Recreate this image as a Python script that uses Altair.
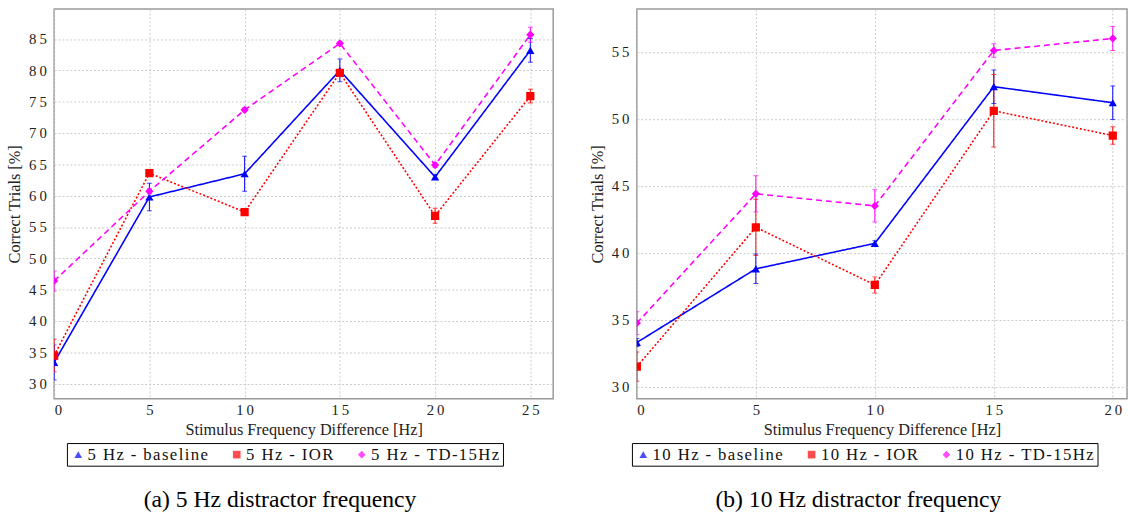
import altair as alt
import pandas as pd

# ---------------- data ----------------
x_left = [0, 5, 10, 15, 20, 25]
left_baseline = [33.4, 59.8, 63.5, 80.0, 63.0, 83.2]
left_baseline_err = [2.8, 2.2, 2.8, 1.8, 0.3, 1.9]
left_ior = [34.5, 63.6, 57.4, 79.6, 56.8, 75.9]
left_ior_err = [2.6, 0.4, 0.3, 0.5, 1.2, 1.1]
left_td = [46.4, 60.7, 73.7, 84.3, 64.9, 85.7]
left_td_err = [1.6, 0.4, 0.3, 0.3, 0.4, 1.2]

x_right = [0, 5, 10, 15, 20]
right_baseline = [33.3, 38.8, 40.7, 52.4, 51.2]
right_baseline_err = [0.3, 1.1, 0.2, 1.25, 1.25]
right_ior = [31.5, 41.9, 37.6, 50.6, 48.75]
right_ior_err = [1.1, 2.1, 0.6, 2.7, 0.65]
right_td = [34.75, 44.4, 43.5, 55.1, 56.0]
right_td_err = [0.85, 1.35, 1.2, 0.5, 0.9]

left_series = ["5 Hz - baseline", "5 Hz - IOR", "5 Hz - TD-15Hz"]
right_series = ["10 Hz - baseline", "10 Hz - IOR", "10 Hz - TD-15Hz"]
colors = ["#0000ff", "#ff0000", "#ff00ff"]
shapes = ["triangle-up", "square", "diamond"]
dashes = [[1, 0], [2, 2], [6, 4]]

FONT = "Liberation Serif"
SPACED = "join(split(datum.label, ''), '\u2009')"
SPACED_LEG = "join(split(datum.label, ''), '\u200a')"


def build_df(xs, names, vals, errs):
    rows = []
    for name, v, e in zip(names, vals, errs):
        for x, y, err in zip(xs, v, e):
            rows.append({"x": x, "y": y, "lo": y - err, "hi": y + err, "series": name})
    return pd.DataFrame(rows)


def panel(df, names, xdomain, ydomain, xticks, yticks, width, height,
          caption, legend_x, legend_y):
    xsc = alt.Scale(domain=xdomain, nice=False, zero=False)
    xax = alt.Axis(values=xticks, title="Stimulus Frequency Difference [Hz]", labelExpr=SPACED)
    ysc = alt.Scale(domain=ydomain, nice=False, zero=False)
    yax = alt.Axis(values=yticks, title="Correct Trials [%]", labelExpr=SPACED)

    def X():
        return alt.X("x:Q", scale=xsc, axis=xax)

    def Y(field):
        return alt.Y(f"{field}:Q", scale=ysc, axis=yax)

    legend = alt.Legend(title=None, orient="none", legendX=legend_x, legendY=legend_y,
                        direction="horizontal", strokeColor="black", padding=3,
                        columnPadding=20, labelFont=FONT, labelFontSize=17,
                        labelColor="#111", symbolSize=60, symbolStrokeWidth=0,
                        labelOffset=1, symbolOffset=0, labelExpr=SPACED_LEG)

    def C():
        return alt.Color("series:N", scale=alt.Scale(domain=names, range=colors), legend=legend)

    base = alt.Chart(df)
    lines = base.mark_line(strokeWidth=1.6, clip=True).encode(
        x=X(), y=Y("y"), color=C(),
        strokeDash=alt.StrokeDash("series:N", scale=alt.Scale(domain=names, range=dashes), legend=None),
    )
    rules = base.mark_rule(strokeWidth=1, clip=True).encode(
        x=X(), y=Y("lo"), y2="hi:Q", color=C(),
    )
    tick_hi = base.mark_tick(size=5, thickness=1, orient="horizontal", clip=True).encode(
        x=X(), y=Y("hi"), color=C(),
    )
    tick_lo = base.mark_tick(size=5, thickness=1, orient="horizontal", clip=True).encode(
        x=X(), y=Y("lo"), color=C(),
    )
    points = base.mark_point(filled=True, opacity=1, size=70, clip=True).encode(
        x=X(), y=Y("y"), color=C(),
        shape=alt.Shape("series:N", scale=alt.Scale(domain=names, range=shapes), legend=legend),
    )
    return alt.layer(lines, rules, tick_hi, tick_lo, points).properties(
        width=width, height=height,
        title=alt.TitleParams(caption, orient="bottom", font=FONT, fontSize=24,
                              fontWeight="normal", color="#000", offset=22,
                              anchor="middle", frame="bounds"),
    )


left_df = build_df(x_left, left_series, [left_baseline, left_ior, left_td],
                   [left_baseline_err, left_ior_err, left_td_err])
right_df = build_df(x_right, right_series, [right_baseline, right_ior, right_td],
                    [right_baseline_err, right_ior_err, right_td_err])

left = panel(left_df, left_series, [0, 26.2], [27.6, 89.8],
             [0, 5, 10, 15, 20, 25], [30, 35, 40, 45, 50, 55, 60, 65, 70, 75, 80, 85],
             507, 396, "(a)  5 Hz distractor frequency", 13, 441)
right = panel(right_df, right_series, [0, 20.6], [29.1, 58.2],
              [0, 5, 10, 15, 20], [30, 35, 40, 45, 50, 55],
              498, 396, "(b)  10 Hz distractor frequency", -5, 441)

chart = alt.hconcat(left, right, spacing=35).resolve_scale(
    x="independent", y="independent", color="independent",
    shape="independent", strokeDash="independent",
).resolve_legend(color="independent", shape="independent").properties(
    padding={"left": 6, "top": 4, "right": 2, "bottom": 0},
    background="white",
).configure_view(
    stroke="#999999", strokeWidth=1.5,
).configure_axis(
    labelFont=FONT, labelFontSize=15, labelColor="#222",
    titleFont=FONT, titleFontSize=16.5, titleFontWeight="normal", titleColor="#222",
    gridColor="#c8c8c8", gridDash=[2, 2], gridWidth=1,
    domain=False, ticks=False, labelPadding=8, titlePadding=6,
).configure_axisX(labelPadding=4, titlePadding=4)

chart.save("out.html", embed_options={"renderer": "svg", "actions": False})
